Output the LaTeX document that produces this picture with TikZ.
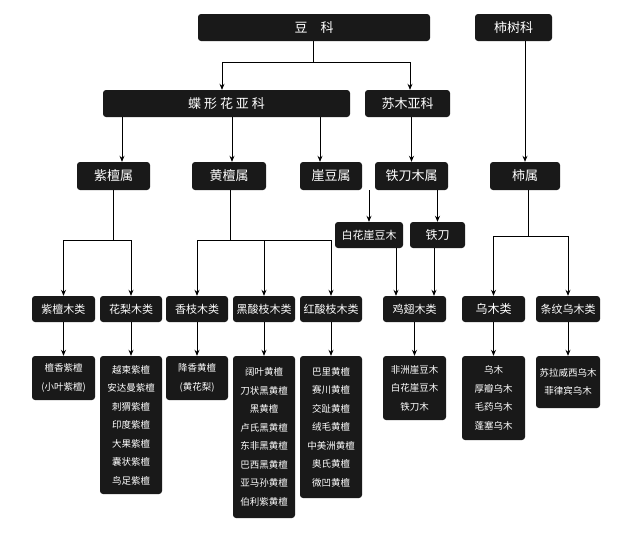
\documentclass[tikz,border=0pt]{standalone}
\usepackage{fontspec}
\setmainfont{Noto Sans CJK SC}
\usetikzlibrary{arrows.meta}
\tikzset{
 bx/.style={fill=black!90,rounded corners=3pt,text=white,inner sep=0pt,font=\fontsize{11}{14}\selectfont,align=center},
 arr/.style={-{Stealth[length=6pt,width=5pt]},line width=0.8pt},
 ln/.style={line width=0.8pt}
}
\newcommand{\bx}[6]{\node[bx,minimum width=#4pt-#2pt,minimum height=#5pt-#3pt] (#1) at ({(#2+#4)/2},{(#3+#5)/2}) {#6};}
\begin{document}
\begin{tikzpicture}[x=1pt,y=-1pt]
\useasboundingbox (0,0) rectangle (640,552);
\bx{dk}{198}{14}{430}{41}{\fontsize{13}{14}\selectfont 豆\quad 科}
\bx{ssk}{475}{14}{552}{41}{\fontsize{13}{14}\selectfont 柿树科}
\bx{df}{103}{90}{350}{117}{\fontsize{13}{14}\selectfont 蝶\ 形\ 花\ 亚\ 科}
\bx{sm}{365}{90}{450}{117}{\fontsize{13}{14}\selectfont 苏木亚科}
\bx{zts}{77}{162}{150}{190}{\fontsize{13}{14}\selectfont 紫檀属}
\bx{hts}{192}{162}{266}{190}{\fontsize{13}{14}\selectfont 黄檀属}
\bx{yds}{300}{162}{362}{190}{\fontsize{13}{14}\selectfont 崖豆属}
\bx{tdms}{375}{162}{448}{190}{\fontsize{13}{14}\selectfont 铁刀木属}
\bx{ss}{490}{162}{560}{190}{\fontsize{13}{14}\selectfont 柿属}
\bx{bh}{335}{222}{403}{248}{白花崖豆木}
\bx{td}{410}{222}{465}{248}{\fontsize{12}{14}\selectfont 铁刀}
\bx{c1}{32}{296}{95}{322}{紫檀木类}
\bx{c2}{100}{296}{162}{322}{花梨木类}
\bx{c3}{166}{296}{228}{322}{香枝木类}
\bx{c4}{233}{296}{295}{322}{黑酸枝木类}
\bx{c5}{300}{296}{362}{322}{红酸枝木类}
\bx{c6}{383}{296}{446}{322}{鸡翅木类}
\bx{c7}{462}{296}{525}{322}{\fontsize{12}{14}\selectfont 乌木类}
\bx{c8}{536}{296}{600}{322}{条纹乌木类}
\tikzset{bx/.append style={font=\fontsize{9.5}{18.5}\selectfont}}
\bx{s1}{32}{356}{95}{400}{檀香紫檀\\(小叶紫檀)}
\bx{s2}{100}{356}{162}{494}{越柬紫檀\\安达曼紫檀\\刺猬紫檀\\印度紫檀\\大果紫檀\\囊状紫檀\\鸟足紫檀}
\bx{s3}{166}{356}{228}{400}{降香黄檀\\(黄花梨)}
\bx{s4}{233}{356}{295}{518}{阔叶黄檀\\刀状黑黄檀\\黑黄檀\\卢氏黑黄檀\\东非黑黄檀\\巴西黑黄檀\\亚马孙黄檀\\伯利紫黄檀}
\bx{s5}{300}{356}{362}{498}{巴里黄檀\\赛川黄檀\\交趾黄檀\\绒毛黄檀\\中美洲黄檀\\奥氏黄檀\\微凹黄檀}
\bx{s6}{383}{356}{446}{420}{非洲崖豆木\\白花崖豆木\\铁刀木}
\bx{s7}{462}{356}{525}{440}{乌木\\厚瓣乌木\\毛药乌木\\蓬塞乌木}
\bx{s8}{536}{356}{600}{408}{苏拉威西乌木\\菲律宾乌木}
% top level
\coordinate (j0) at (313,62);
\coordinate (ja) at (222,62);
\coordinate (jb) at (410,62);
\draw[ln] (dk.south -| j0) -- (j0);
\draw[ln] (ja) -- (jb);
\draw[arr] (ja) -- (df.north -| ja);
\draw[arr] (jb) -- (sm.north -| jb);
\draw[arr] (ssk.south -| ss) -- (ss.north);
% subfamilies to genera
\coordinate (g1) at (122,117);
\coordinate (g2) at (232,117);
\coordinate (g3) at (320,117);
\draw[arr] (g1) -- (zts.north -| g1);
\draw[arr] (g2) -- (hts.north -| g2);
\draw[arr] (g3) -- (yds.north -| g3);
\draw[arr] (sm.south -| tdms) -- (tdms.north);
\draw[arr] (yds.south -| bh) -- (bh.north);
\draw[arr] (tdms.south -| td) -- (td.north);
% genera to classes
\coordinate (z0) at (113,240);
\draw[ln] (zts.south -| z0) -- (z0);
\draw[ln] (z0 -| c1) -- (z0 -| c2);
\draw[arr] (z0 -| c1) -- (c1.north);
\draw[arr] (z0 -| c2) -- (c2.north);
\coordinate (h0) at (230,240);
\draw[ln] (hts.south -| h0) -- (h0);
\draw[ln] (h0 -| c3) -- (h0 -| c5);
\draw[arr] (h0 -| c3) -- (c3.north);
\draw[arr] (h0 -| c4) -- (c4.north);
\draw[arr] (h0 -| c5) -- (c5.north);
\coordinate (x1) at (396,248);
\coordinate (x2) at (434,248);
\draw[arr] (x1) -- (c6.north -| x1);
\draw[arr] (x2) -- (c6.north -| x2);
\coordinate (p0) at (528,236);
\draw[ln] (ss.south -| p0) -- (p0);
\draw[ln] (p0 -| c7) -- (p0 -| c8);
\draw[arr] (p0 -| c7) -- (c7.north);
\draw[arr] (p0 -| c8) -- (c8.north);
% classes to species
\foreach \i in {1,...,8}{\draw[arr] (c\i.south) -- (s\i.north);}
\end{tikzpicture}
\end{document}
